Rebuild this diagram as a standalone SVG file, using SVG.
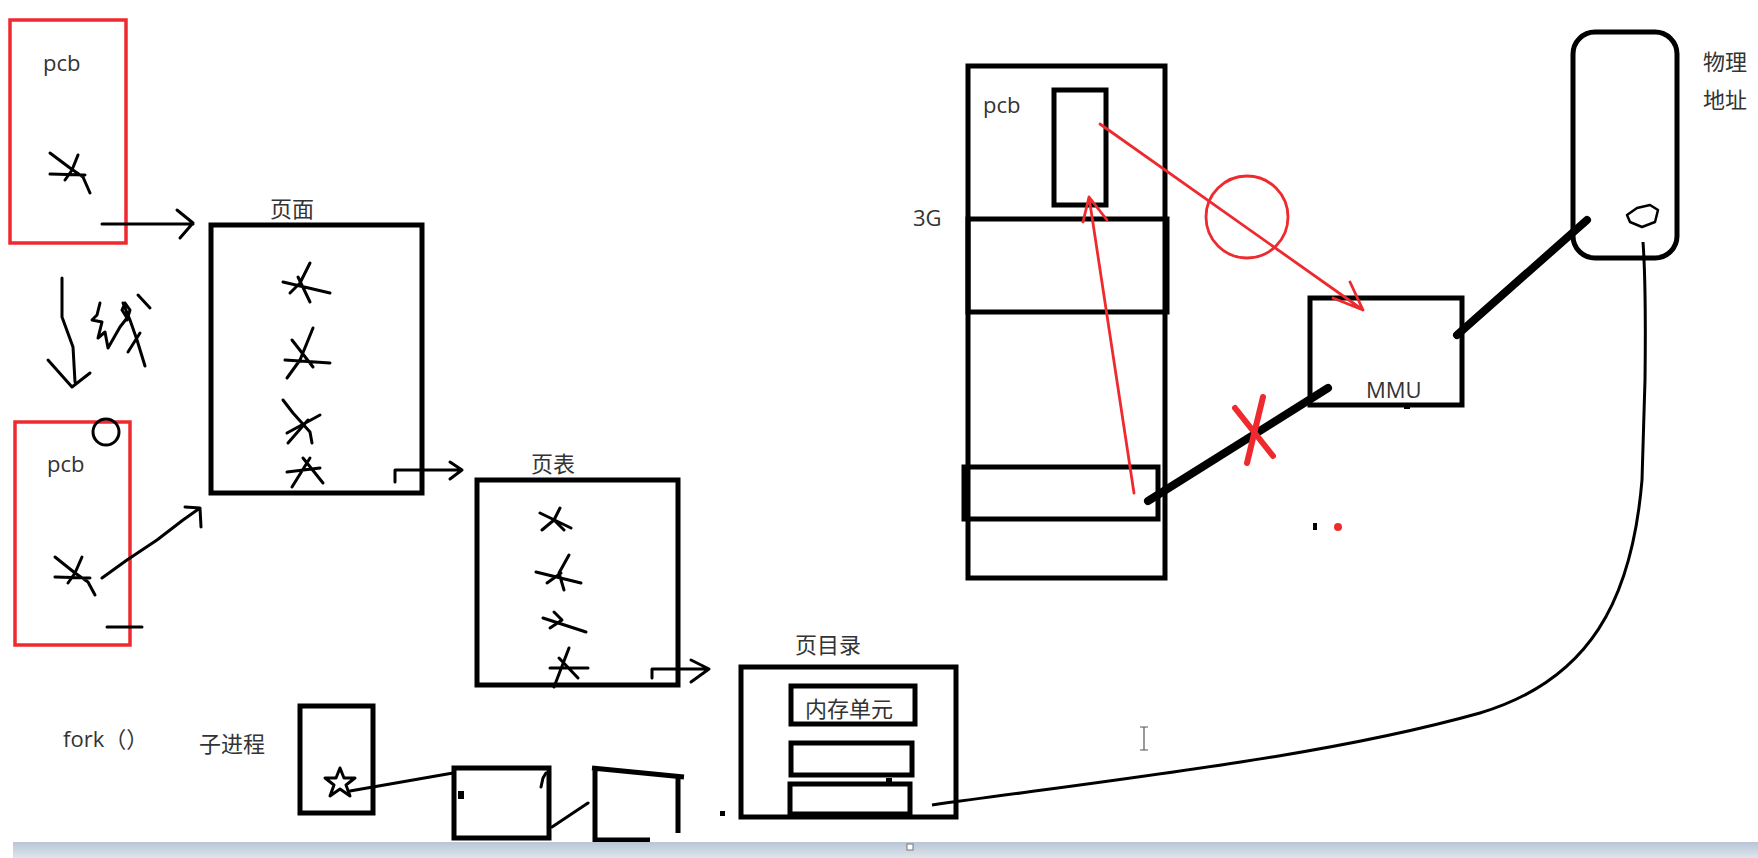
<svg xmlns="http://www.w3.org/2000/svg" width="1758" height="858" viewBox="0 0 1758 858">
<style>
.lbl{font-family:"Open Sans","Noto Sans CJK SC",sans-serif;font-size:22px;fill:#333}
.cjk{font-family:"Noto Sans CJK SC","Open Sans",sans-serif;font-size:22px;fill:#333}
.box{fill:none;stroke:#000;stroke-width:5}
.rbox{fill:none;stroke:#ee2a2f;stroke-width:3.5}
.ink{fill:none;stroke:#000;stroke-width:3;stroke-linecap:round;stroke-linejoin:round}
.thin{fill:none;stroke:#000;stroke-width:2.5;stroke-linecap:round;stroke-linejoin:round}
.red{fill:none;stroke:#ee2a2f;stroke-width:2.8;stroke-linecap:round;stroke-linejoin:round}
.fat{fill:none;stroke:#000;stroke-width:8;stroke-linecap:round}
</style>
<defs>
<linearGradient id="bar" x1="0" y1="0" x2="0" y2="1">
<stop offset="0" stop-color="#b8c5d6"/>
<stop offset="1" stop-color="#dfe5ec"/>
</linearGradient>
</defs>
<rect width="1758" height="858" fill="#fff"/>

<!-- top pcb -->
<g id="pcb1">
<rect class="rbox" x="10" y="20" width="116" height="223"/>
<text class="lbl" x="43" y="71">pcb</text>
<path class="ink" d="M50,153 L70,168 L83,177 L90,193 M50,174 L85,175 M78,155 L72,170 L65,180"/>
</g>

<!-- scribble between pcbs -->
<g id="fork-note">
<path class="ink" d="M62,278 L62,317 L73,347 L75,382 M48,360 L72,387 L90,373"/>
<path class="ink" d="M100,303 L97,315 L92,320 L102,322 L98,338 L105,332 L108,348 L120,327 L127,318 L122,310 L125,303 L130,310 L127,320 M123,303 L130,320 L137,340 L145,366 M140,333 L128,352 M138,295 L150,308"/>
</g>

<!-- bottom pcb -->
<g id="pcb2">
<rect class="rbox" x="15" y="422" width="115" height="223"/>
<circle class="ink" cx="106" cy="432" r="13"/>
<text class="lbl" x="47" y="472">pcb</text>
<path class="ink" d="M55,557 L75,573 L88,582 L95,595 M55,577 L90,578 M82,557 L75,573 L68,583"/>
<path class="ink" d="M107,627 L142,627"/>
</g>

<!-- 页面 -->
<g id="page">
<text class="cjk" x="270" y="217">页面</text>
<rect class="box" x="211" y="225" width="211" height="268"/>
<path class="ink" d="M283,282 L330,293 M310,263 L300,283 L290,293 M298,277 L310,302"/>
<path class="ink" d="M285,360 L330,363 M313,328 L300,360 L287,378 M292,340 L313,367"/>
<path class="ink" d="M283,400 L293,413 L310,432 L312,443 M287,433 L320,415 M288,443 L308,420"/>
<path class="ink" d="M287,472 L320,468 M303,458 L323,483 M310,458 L292,487"/>
</g>

<!-- 页表 -->
<g id="pagetable">
<text class="cjk" x="531" y="472">页表</text>
<rect class="box" x="477" y="480" width="201" height="205"/>
<path class="ink" d="M540,513 L571,528 M560,508 L554,520 L542,530 M554,520 L564,530"/>
<path class="ink" d="M536,572 L581,583 M569,555 L559,573 L564,590 M547,583 L561,573"/>
<path class="ink" d="M543,618 L586,632 M554,612 L562,620 L550,628"/>
<path class="ink" d="M550,668 L588,668 M569,648 L554,687 M559,658 L578,678"/>
</g>

<!-- 页目录 -->
<g id="pagedir">
<text class="cjk" x="795" y="653">页目录</text>
<rect class="box" x="741" y="667" width="215" height="150"/>
<rect class="box" x="791" y="686" width="124" height="38"/>
<text class="cjk" x="805" y="717">内存单元</text>
<rect class="box" x="791" y="743" width="121" height="32"/>
<rect class="box" x="790" y="784" width="120" height="30"/>
<rect x="886" y="778" width="6" height="4" fill="#000"/>
</g>

<!-- fork child -->
<g id="child">
<text class="lbl" x="63" y="747">fork（）</text>
<text class="cjk" x="199" y="752">子进程</text>
<rect class="box" x="300" y="706" width="73" height="107"/>
<path class="ink" d="M340,768 L344,778 L355,778 L346,785 L350,796 L340,789 L330,796 L334,785 L325,778 L336,778 Z"/>
</g>

<g id="boxA">
<rect class="box" x="454" y="768" width="95" height="70"/>
<rect x="458" y="791" width="6" height="8" fill="#000"/>
<path class="ink" d="M541,787 L543,778 L546,773"/>
</g>

<g id="boxB">
<path class="box" d="M592,768 L684,777 M595,768 L595,840 L650,840 M678,777 L678,833"/>
</g>
<rect x="720" y="811" width="5" height="5" fill="#000"/>

<!-- 3G address space -->
<g id="vspace">
<text class="lbl" x="913" y="226">3G</text>
<rect class="box" x="968" y="66" width="197" height="512" stroke-width="6"/>
<rect class="box" x="968" y="219" width="199" height="93" stroke-width="6"/>
<rect class="box" x="964" y="467" width="194" height="52" stroke-width="6"/>
<text class="lbl" x="983" y="113">pcb</text>
<rect class="box" x="1054" y="90" width="52" height="115" stroke-width="5"/>
</g>

<!-- MMU -->
<g id="mmu">
<rect class="box" x="1310" y="298" width="152" height="107" stroke-width="6"/>
<text class="lbl" x="1366" y="398" font-size="23">MMU</text>
<rect x="1404" y="405" width="6" height="4" fill="#000"/>
</g>

<!-- physical memory -->
<g id="phys">
<rect class="box" x="1573" y="32" width="104" height="226" rx="22" stroke-width="6"/>
<path class="thin" d="M1627,215 L1637,208 L1650,205 L1658,210 L1655,222 L1642,227 L1630,222 Z"/>
<text class="cjk" x="1703" y="70">物理</text>
<text class="cjk" x="1703" y="108">地址</text>
</g>

<g id="dots">
<rect x="1313" y="523" width="4" height="7" fill="#000"/>
<circle cx="1338" cy="527" r="4" fill="#ee2a2f"/>
</g>

<!-- connectors -->
<g id="connectors">
<path class="ink" d="M102,224 L193,224 M177,210 L193,223 L180,238"/>
<path class="ink" d="M102,578 L127,560 L157,540 L183,520 L200,508 M185,507 L200,508 L201,527"/>
<path class="ink" d="M395,482 L395,470 L462,470 M450,462 L462,470 L450,479"/>
<path class="ink" d="M652,678 L652,669 L709,669 M691,660 L709,669 L691,682"/>
<path class="ink" d="M350,791 L453,773"/>
<path class="ink" d="M552,827 L588,803"/>
<path class="red" d="M1100,124 L1363,310 M1350,282 L1363,310 L1333,298"/>
<circle class="red" cx="1247" cy="217" r="41"/>
<path class="red" d="M1134,493 L1089,197 M1083,222 L1089,197 L1107,220"/>
<path class="fat" d="M1148,501 L1328,388"/>
<path d="M1263,397 L1247,463 M1235,408 L1273,456" fill="none" stroke="#ee2a2f" stroke-width="6" stroke-linecap="round"/>
<path class="fat" d="M1457,335 L1587,220"/>
<path d="M932,805 C1150,775 1330,755 1480,713 C1590,680 1632,600 1642,480 L1645,380 C1646,300 1645,270 1643,242" fill="none" stroke="#000" stroke-width="3"/>
</g>

<!-- cursor -->
<path d="M1140,727 H1148 M1144,727 V750 M1140,750 H1148" fill="none" stroke="#555" stroke-width="1.2"/>

<!-- bottom bar -->
<rect x="13" y="842" width="1745" height="16" fill="url(#bar)"/>
<rect x="907" y="844" width="6" height="6" fill="#fff" stroke="#777" stroke-width="1"/>
</svg>
